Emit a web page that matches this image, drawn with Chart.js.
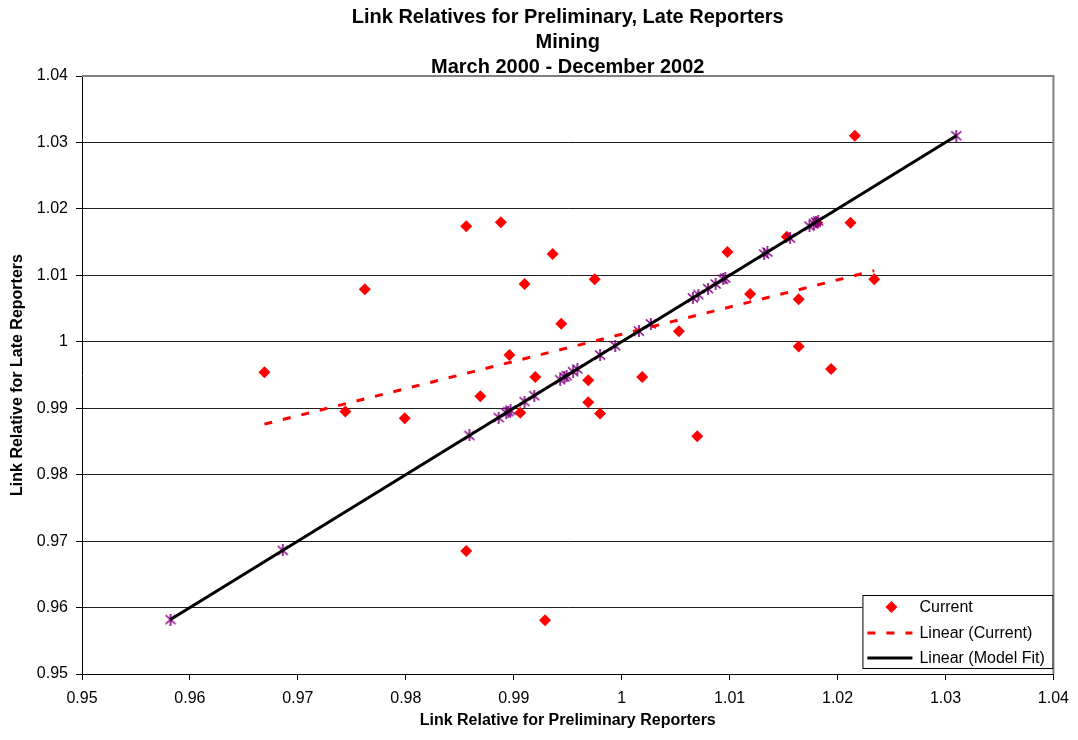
<!DOCTYPE html>
<html>
<head>
<meta charset="utf-8">
<script src="https://cdn.jsdelivr.net/npm/chart.js@4/dist/chart.umd.min.js"></script>
<style>
  html, body { margin: 0; padding: 0; background: #fff; }
  #wrap { width: 1078px; height: 740px; }
</style>
</head>
<body>
<div id="wrap"><canvas id="grafico" width="1078" height="740"></canvas></div>
<script>
// valores
const currentX = [0.9669, 0.9744, 0.9762, 0.9799, 0.9856, 0.9856, 0.9869, 0.9888,
  0.9896, 0.9906, 0.9910, 0.9920, 0.9929, 0.9936, 0.9944, 0.9969, 0.9969, 0.9975,
  0.9980, 1.0019, 1.0053, 1.0070, 1.0098, 1.0119, 1.0153, 1.0164, 1.0164, 1.0181,
  1.0194, 1.0212, 1.0216, 1.0234];
const currentY = [0.9954, 0.9895, 1.0079, 0.9885, 1.0174, 0.9685, 0.9918, 1.0180,
  0.9980, 0.9893, 1.0087, 0.9947, 0.9581, 1.0132, 1.0027, 0.9942, 0.9909, 1.0094,
  0.9892, 0.9947, 1.0016, 0.9858, 1.0135, 1.0072, 1.0158, 1.0064, 0.9993, 1.0179,
  0.9959, 1.0179, 1.0310, 1.0094];

// puntos del modelo (sobre la diagonal)
const modelFitX = [0.9582, 0.9686, 0.9859, 0.9886, 0.9893, 0.9895, 0.9897, 0.9910,
  0.9919, 0.9943, 0.9947, 0.9949, 0.9955, 0.9959, 0.9980, 0.9994, 1.0016, 1.0027,
  1.0066, 1.0071, 1.0080, 1.0087, 1.0094, 1.0096, 1.0132, 1.0135, 1.0156, 1.0174,
  1.0178, 1.0180, 1.0182, 1.0310];
const modelFitY = [0.9582, 0.9686, 0.9859, 0.9886, 0.9893, 0.9895, 0.9897, 0.9910,
  0.9919, 0.9943, 0.9947, 0.9949, 0.9955, 0.9959, 0.9980, 0.9994, 1.0016, 1.0027,
  1.0066, 1.0071, 1.0080, 1.0087, 1.0094, 1.0096, 1.0132, 1.0135, 1.0156, 1.0174,
  1.0178, 1.0180, 1.0182, 1.0310];

// lineas de tendencia (extremos)
const trendCurrentX = [0.9669, 1.0234];
const trendCurrentY = [0.9876, 1.0107];
const trendModelX = [0.9582, 1.0310];
const trendModelY = [0.9582, 1.0310];

const axisMin = 0.95;
const axisMax = 1.04;
const axisStep = 0.01;

const titleLines = ["Link Relatives for Preliminary, Late Reporters", "Mining", "March 2000 - December 2002"];
const legendLabels = ["Current", "Linear (Current)", "Linear (Model Fit)"];

const FONT = "'Liberation Sans', Arial, sans-serif";
const trendDash = [8, 11];

function puntos(xs, ys) {
  return xs.map((x, i) => ({ x: x, y: ys[i] }));
}

function formato(v) {
  return String(parseFloat(Number(v).toFixed(2)));
}

// marcador tipo asterisco
const estrella = document.createElement('canvas');
estrella.width = 12;
estrella.height = 12;
(function () {
  const c = estrella.getContext('2d');
  c.strokeStyle = '#800080';
  c.lineWidth = 1.6;
  c.beginPath();
  c.moveTo(1, 1.5); c.lineTo(11, 10.5);
  c.moveTo(11, 1.5); c.lineTo(1, 10.5);
  c.moveTo(6, 0); c.lineTo(6, 12);
  c.stroke();
})();

// borde gris arriba y a la derecha
const bordePlugin = {
  id: 'borde',
  beforeDatasetsDraw(chart) {
    const { ctx, chartArea: a } = chart;
    ctx.save();
    ctx.strokeStyle = '#808080';
    ctx.lineWidth = 2;
    ctx.beginPath();
    ctx.moveTo(a.left, a.top);
    ctx.lineTo(a.right, a.top);
    ctx.lineTo(a.right, a.bottom);
    ctx.stroke();
    ctx.restore();
  }
};

// leyenda dentro del area
const leyendaPlugin = {
  id: 'leyenda',
  afterDraw(chart) {
    const { ctx, chartArea: a } = chart;
    const w = 191, h = 74;
    const x0 = a.right - w, y0 = a.bottom - 5 - h;
    ctx.save();
    ctx.fillStyle = '#fff';
    ctx.fillRect(x0, y0, w, h);
    ctx.strokeStyle = '#000';
    ctx.lineWidth = 1;
    ctx.strokeRect(x0 + 0.5, y0 + 0.5, w - 1, h - 1);

    const filas = [y0 + 12, y0 + 38, y0 + 63];
    const sx0 = x0 + 5, sx1 = x0 + 50;

    // diamante
    ctx.fillStyle = '#ff0000';
    ctx.beginPath();
    const cx = x0 + 29, cy = filas[0], r = 6;
    ctx.moveTo(cx, cy - r); ctx.lineTo(cx + r, cy); ctx.lineTo(cx, cy + r); ctx.lineTo(cx - r, cy);
    ctx.closePath();
    ctx.fill();

    ctx.lineWidth = 3;
    ctx.strokeStyle = '#ff0000';
    ctx.setLineDash(trendDash);
    ctx.beginPath();
    ctx.moveTo(sx0, filas[1]); ctx.lineTo(sx1, filas[1]);
    ctx.stroke();

    ctx.setLineDash([]);
    ctx.strokeStyle = '#000';
    ctx.beginPath();
    ctx.moveTo(sx0, filas[2]); ctx.lineTo(sx1, filas[2]);
    ctx.stroke();

    ctx.fillStyle = '#000';
    ctx.font = '16px ' + FONT;
    ctx.textBaseline = 'middle';
    legendLabels.forEach((t, i) => ctx.fillText(t, x0 + 57, filas[i] + 1));
    ctx.restore();
  }
};

const ctx = document.getElementById('grafico').getContext('2d');

new Chart(ctx, {
  type: 'scatter',
  data: {
    datasets: [
      {
        label: 'Linear (Model Fit)',
        data: puntos(trendModelX, trendModelY),
        showLine: true,
        borderColor: '#000',
        borderWidth: 3,
        pointRadius: 0
      },
      {
        label: 'Linear (Current)',
        data: puntos(trendCurrentX, trendCurrentY),
        showLine: true,
        borderColor: '#ff0000',
        borderWidth: 3,
        borderDash: trendDash,
        pointRadius: 0
      },
      {
        label: 'Model Fit',
        data: puntos(modelFitX, modelFitY),
        pointStyle: estrella,
        pointRadius: 6
      },
      {
        label: 'Current',
        data: puntos(currentX, currentY),
        pointStyle: 'rectRot',
        pointRadius: 6,
        backgroundColor: '#ff0000',
        borderColor: '#ff0000',
        borderWidth: 0
      }
    ]
  },
  options: {
    responsive: false,
    animation: false,
    layout: { padding: { right: 24 } },
    plugins: {
      legend: { display: false },
      tooltip: { enabled: false },
      title: {
        display: true,
        fullSize: false,
        text: titleLines,
        color: '#000',
        font: { family: FONT, size: 20, weight: 'bold', lineHeight: 1.25 },
        padding: { top: 5, bottom: -4 }
      }
    },
    scales: {
      x: {
        type: 'linear',
        min: axisMin,
        max: axisMax,
        afterFit(scale) { scale.height = 66; },
        ticks: {
          stepSize: axisStep,
          color: '#000',
          padding: 9,
          font: { family: FONT, size: 16 },
          callback: formato
        },
        grid: { drawOnChartArea: false, drawTicks: true, tickLength: 6, tickColor: '#000' },
        border: { display: true, color: '#000', width: 1 },
        title: {
          display: true,
          text: 'Link Relative for Preliminary Reporters',
          color: '#000',
          font: { family: FONT, size: 16, weight: 'bold' },
          padding: { top: 0, bottom: 10 }
        }
      },
      y: {
        type: 'linear',
        min: axisMin,
        max: axisMax,
        afterFit(scale) { scale.width = 82; },
        ticks: {
          stepSize: axisStep,
          color: '#000',
          padding: 8,
          font: { family: FONT, size: 16 },
          callback: formato
        },
        grid: {
          color: c => (c.index === 9 ? '#808080' : '#202020'),
          lineWidth: 1,
          tickLength: 6,
          tickColor: '#000'
        },
        border: { display: true, color: '#000', width: 1 },
        title: {
          display: true,
          text: 'Link Relative for Late Reporters',
          color: '#000',
          font: { family: FONT, size: 16, weight: 'bold' },
          padding: { top: 8, bottom: 0 }
        }
      }
    }
  },
  plugins: [bordePlugin, leyendaPlugin]
});
</script>
</body>
</html>
